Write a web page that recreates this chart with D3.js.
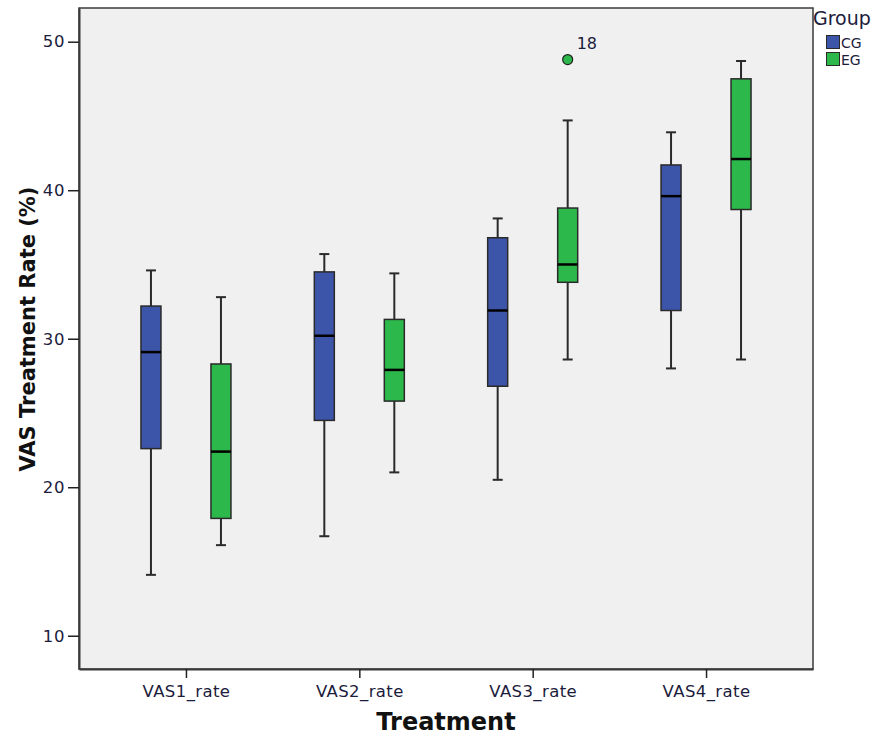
<!DOCTYPE html>
<html>
<head>
<meta charset="utf-8">
<script src="https://cdn.jsdelivr.net/npm/d3@7"></script>
<style>
  body { margin: 0; background: #fff; }
  svg { display: block; font-family: "DejaVu Sans", sans-serif; }
</style>
</head>
<body>
<svg id="canvas" width="887" height="739"></svg>
<script>
// categories and groups
let treatments = ["VAS1_rate", "VAS2_rate", "VAS3_rate", "VAS4_rate"];
let groups = ["CG", "EG"];
let yTicks = [10, 20, 30, 40, 50];

// five-number summaries: [min, q1, median, q3, max]
let cgStats = [
  [14.1, 22.6, 29.1, 32.2, 34.6],
  [16.7, 24.5, 30.2, 34.5, 35.7],
  [20.5, 26.8, 31.9, 36.8, 38.1],
  [28.0, 31.9, 39.6, 41.7, 43.9]
];
let egStats = [
  [16.1, 17.9, 22.4, 28.3, 32.8],
  [21.0, 25.8, 27.9, 31.3, 34.4],
  [28.6, 33.8, 35.0, 38.8, 44.7],
  [28.6, 38.7, 42.1, 47.5, 48.7]
];
// outliers: [treatment, group, value, case label]
let outliers = [["VAS3_rate", "EG", 48.8, "18"]];

let colors = { CG: "#3d55a8", EG: "#2db84b" };

let plotL = 79, plotR = 813, plotT = 8, plotB = 669;

let canvas = d3.select("#canvas");

let x = d3.scalePoint().domain(treatments).range([plotL, plotR]).padding(0.617);
let xg = d3.scalePoint().domain(groups).range([-35, 35]);
let y = d3.scaleLinear().domain([7.76, 52.27]).range([plotB, plotT]);

// plot background
canvas.append("rect")
  .attr("x", plotL).attr("y", plotT)
  .attr("width", plotR - plotL).attr("height", plotB - plotT)
  .attr("fill", "#f0f0f0")
  .attr("stroke", "#3a3a3a")
  .attr("stroke-width", 1.5);

// axes
let yAxis = canvas.append("g")
  .attr("transform", "translate(" + plotL + ",0)")
  .call(d3.axisLeft(y).tickValues(yTicks).tickSizeInner(11).tickSizeOuter(0).tickPadding(3));
yAxis.select(".domain").attr("stroke", "#3a3a3a").attr("stroke-width", 2);
yAxis.selectAll(".tick line").attr("stroke", "#222").attr("stroke-width", 1.5);
yAxis.selectAll("text")
  .attr("font-size", 16.5).attr("fill", "#1c1c3c")
  .attr("letter-spacing", 0.6)
  .attr("font-family", "DejaVu Sans, sans-serif");

let xAxis = canvas.append("g")
  .attr("transform", "translate(0," + plotB + ")")
  .call(d3.axisBottom(x).tickSizeInner(9).tickSizeOuter(0).tickPadding(7));
xAxis.select(".domain").attr("stroke", "#3a3a3a").attr("stroke-width", 2);
xAxis.selectAll(".tick line").attr("stroke", "#222").attr("stroke-width", 1.5);
xAxis.selectAll("text")
  .attr("font-size", 16.5).attr("fill", "#1c1c3c")
  .attr("letter-spacing", 0.4)
  .attr("font-family", "DejaVu Sans, sans-serif");

// axis titles
canvas.append("text")
  .attr("x", 446).attr("y", 730)
  .attr("text-anchor", "middle")
  .attr("font-size", 24).attr("font-weight", "bold")
  .attr("fill", "#111")
  .text("Treatment");

canvas.append("text")
  .attr("transform", "translate(35,329) rotate(-90)")
  .attr("text-anchor", "middle")
  .attr("font-size", 21).attr("font-weight", "bold")
  .attr("fill", "#111")
  .text("VAS Treatment Rate (%)");

// build box rows
let boxes = [];
treatments.forEach((t, i) => {
  boxes.push({ t: t, g: "CG", s: cgStats[i] });
  boxes.push({ t: t, g: "EG", s: egStats[i] });
});

let boxW = 20, capW = 10;

let block = canvas.selectAll("g.box")
  .data(boxes)
  .enter()
  .append("g")
  .attr("class", "box")
  .attr("transform", (d) => "translate(" + (x(d.t) + xg(d.g)) + ",0)");

// whiskers
block.append("line")
  .attr("x1", 0).attr("x2", 0)
  .attr("y1", (d) => y(d.s[0])).attr("y2", (d) => y(d.s[4]))
  .attr("stroke", "#2a2a2a").attr("stroke-width", 2);
block.append("line")
  .attr("x1", -capW / 2).attr("x2", capW / 2)
  .attr("y1", (d) => y(d.s[0])).attr("y2", (d) => y(d.s[0]))
  .attr("stroke", "#2a2a2a").attr("stroke-width", 2);
block.append("line")
  .attr("x1", -capW / 2).attr("x2", capW / 2)
  .attr("y1", (d) => y(d.s[4])).attr("y2", (d) => y(d.s[4]))
  .attr("stroke", "#2a2a2a").attr("stroke-width", 2);

// box
block.append("rect")
  .attr("x", -boxW / 2)
  .attr("y", (d) => y(d.s[3]))
  .attr("width", boxW)
  .attr("height", (d) => y(d.s[1]) - y(d.s[3]))
  .attr("fill", (d) => colors[d.g])
  .attr("stroke", "#2a2a2a").attr("stroke-width", 1.5);

// median
block.append("line")
  .attr("x1", -boxW / 2).attr("x2", boxW / 2)
  .attr("y1", (d) => y(d.s[2])).attr("y2", (d) => y(d.s[2]))
  .attr("stroke", "#000").attr("stroke-width", 2.5);

// outliers
outliers.forEach((o) => {
  let cx = x(o[0]) + xg(o[1]);
  canvas.append("circle")
    .attr("cx", cx).attr("cy", y(o[2])).attr("r", 5)
    .attr("fill", colors[o[1]])
    .attr("stroke", "#222").attr("stroke-width", 1.2);
  canvas.append("text")
    .attr("x", cx + 9).attr("y", y(o[2]) - 11)
    .attr("font-size", 16).attr("fill", "#1c1c3c")
    .text(o[3]);
});

// legend
let legend = canvas.append("g").attr("transform", "translate(813,0)");
legend.append("text")
  .attr("x", 0).attr("y", 25)
  .attr("font-size", 19).attr("fill", "#1c1c3c")
  .text("Group");
groups.forEach((g, i) => {
  legend.append("rect")
    .attr("x", 13.5).attr("y", 35.5 + i * 17)
    .attr("width", 13).attr("height", 13)
    .attr("fill", colors[g])
    .attr("stroke", "#2a2a2a").attr("stroke-width", 1);
  legend.append("text")
    .attr("x", 28).attr("y", 47.5 + i * 17)
    .attr("font-size", 14).attr("fill", "#1c1c3c")
    .text(g);
});
</script>
</body>
</html>
